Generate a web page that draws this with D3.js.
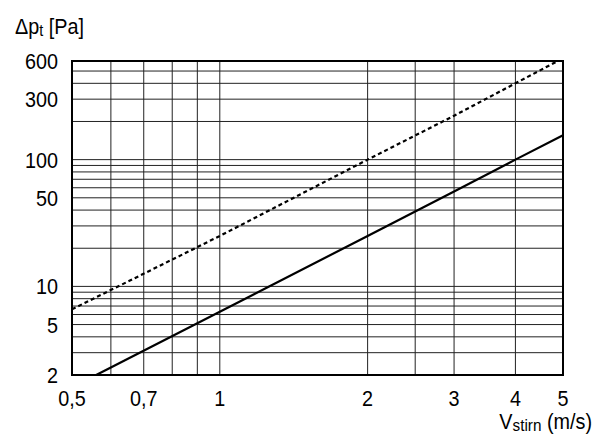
<!DOCTYPE html>
<html>
<head>
<meta charset="utf-8">
<script src="https://cdn.jsdelivr.net/npm/d3@7"></script>
<style>
  body { margin: 0; background: #fff; }
  text { font-family: "Liberation Sans", Arial, sans-serif; fill: #000; }
</style>
</head>
<body>
<script>
// ---------------------
// data
// ---------------------
var xTicks = [0.5, 0.7, 1, 2, 3, 4, 5];
var xTickLabels = ["0,5", "0,7", "1", "2", "3", "4", "5"];
var xGrid = [0.5, 0.6, 0.7, 0.8, 0.9, 1, 2, 2.5, 3, 4, 5];

var yTicks = [2, 5, 10, 50, 100, 300, 600];
var yGrid = [2, 3, 4, 5, 6, 7, 8, 9, 10, 20, 30, 40, 50, 60, 70, 80, 90, 100, 200, 300, 400, 500, 600];

// solid curve
var solidV = [0.56, 1, 2, 3, 4, 5];
var solidP = [2, 6.3, 25, 56, 100, 156];
// dashed curve
var dashV = [0.5, 1, 2, 3, 4, 4.88];
var dashP = [6.6, 25, 100, 222, 400, 600];

var w = 600, h = 438;
var mLeft = 72, mRight = 563, mTop = 61, mBottom = 375;
var fs = 22;
var squeeze = 0.9; // the original type is a narrow face

var svg = d3.select("body").append("svg")
  .attr("width", w)
  .attr("height", h);

var x = d3.scaleLog().domain([0.5, 5]).range([mLeft, mRight]);
var y = d3.scaleLog().domain([2, 600]).range([mBottom, mTop]);

function place(px, py) {
  return "translate(" + px + "," + py + ") scale(" + squeeze + ",1)";
}

// grid
svg.append("g").selectAll("line")
  .data(xGrid)
  .enter().append("line")
  .attr("x1", function(d) { return x(d); })
  .attr("x2", function(d) { return x(d); })
  .attr("y1", mTop).attr("y2", mBottom)
  .attr("stroke", "#222").attr("stroke-width", 1);

svg.append("g").selectAll("line")
  .data(yGrid)
  .enter().append("line")
  .attr("y1", function(d) { return y(d); })
  .attr("y2", function(d) { return y(d); })
  .attr("x1", mLeft).attr("x2", mRight)
  .attr("stroke", "#222").attr("stroke-width", 1);

// frame
svg.append("rect")
  .attr("x", mLeft).attr("y", mTop)
  .attr("width", mRight - mLeft).attr("height", mBottom - mTop)
  .attr("fill", "none").attr("stroke", "#000").attr("stroke-width", 2);

// curves
var line = d3.line()
  .x(function(d) { return x(d[0]); })
  .y(function(d) { return y(d[1]); });

svg.append("path")
  .datum(d3.zip(solidV, solidP))
  .attr("d", line)
  .attr("fill", "none").attr("stroke", "#000").attr("stroke-width", 2.2);

svg.append("path")
  .datum(d3.zip(dashV, dashP))
  .attr("d", line)
  .attr("fill", "none").attr("stroke", "#000").attr("stroke-width", 2.2)
  .attr("stroke-dasharray", "4,3");

// tick labels
svg.append("g").selectAll("text")
  .data(xTicks)
  .enter().append("text")
  .attr("transform", function(d) { return place(x(d), 406); })
  .attr("text-anchor", "middle")
  .attr("font-size", fs)
  .text(function(d, i) { return xTickLabels[i]; });

svg.append("g").selectAll("text")
  .data(yTicks)
  .enter().append("text")
  .attr("transform", function(d) { return place(58, y(d) + 8); })
  .attr("text-anchor", "end")
  .attr("font-size", fs)
  .text(function(d) { return d; });

// axis titles
var yt = svg.append("text").attr("transform", place(15, 34)).attr("font-size", fs);
yt.append("tspan").text("\u0394p");
yt.append("tspan").attr("font-size", 16).attr("dy", 2).text("t");
yt.append("tspan").attr("dy", -2).text(" [Pa]");

var xt = svg.append("text").attr("transform", place(592, 429))
  .attr("text-anchor", "end").attr("font-size", fs);
xt.append("tspan").text("V");
xt.append("tspan").attr("font-size", 17).attr("dy", 2).text("stirn");
xt.append("tspan").attr("dy", -2).text(" (m/s)");
</script>
</body>
</html>
